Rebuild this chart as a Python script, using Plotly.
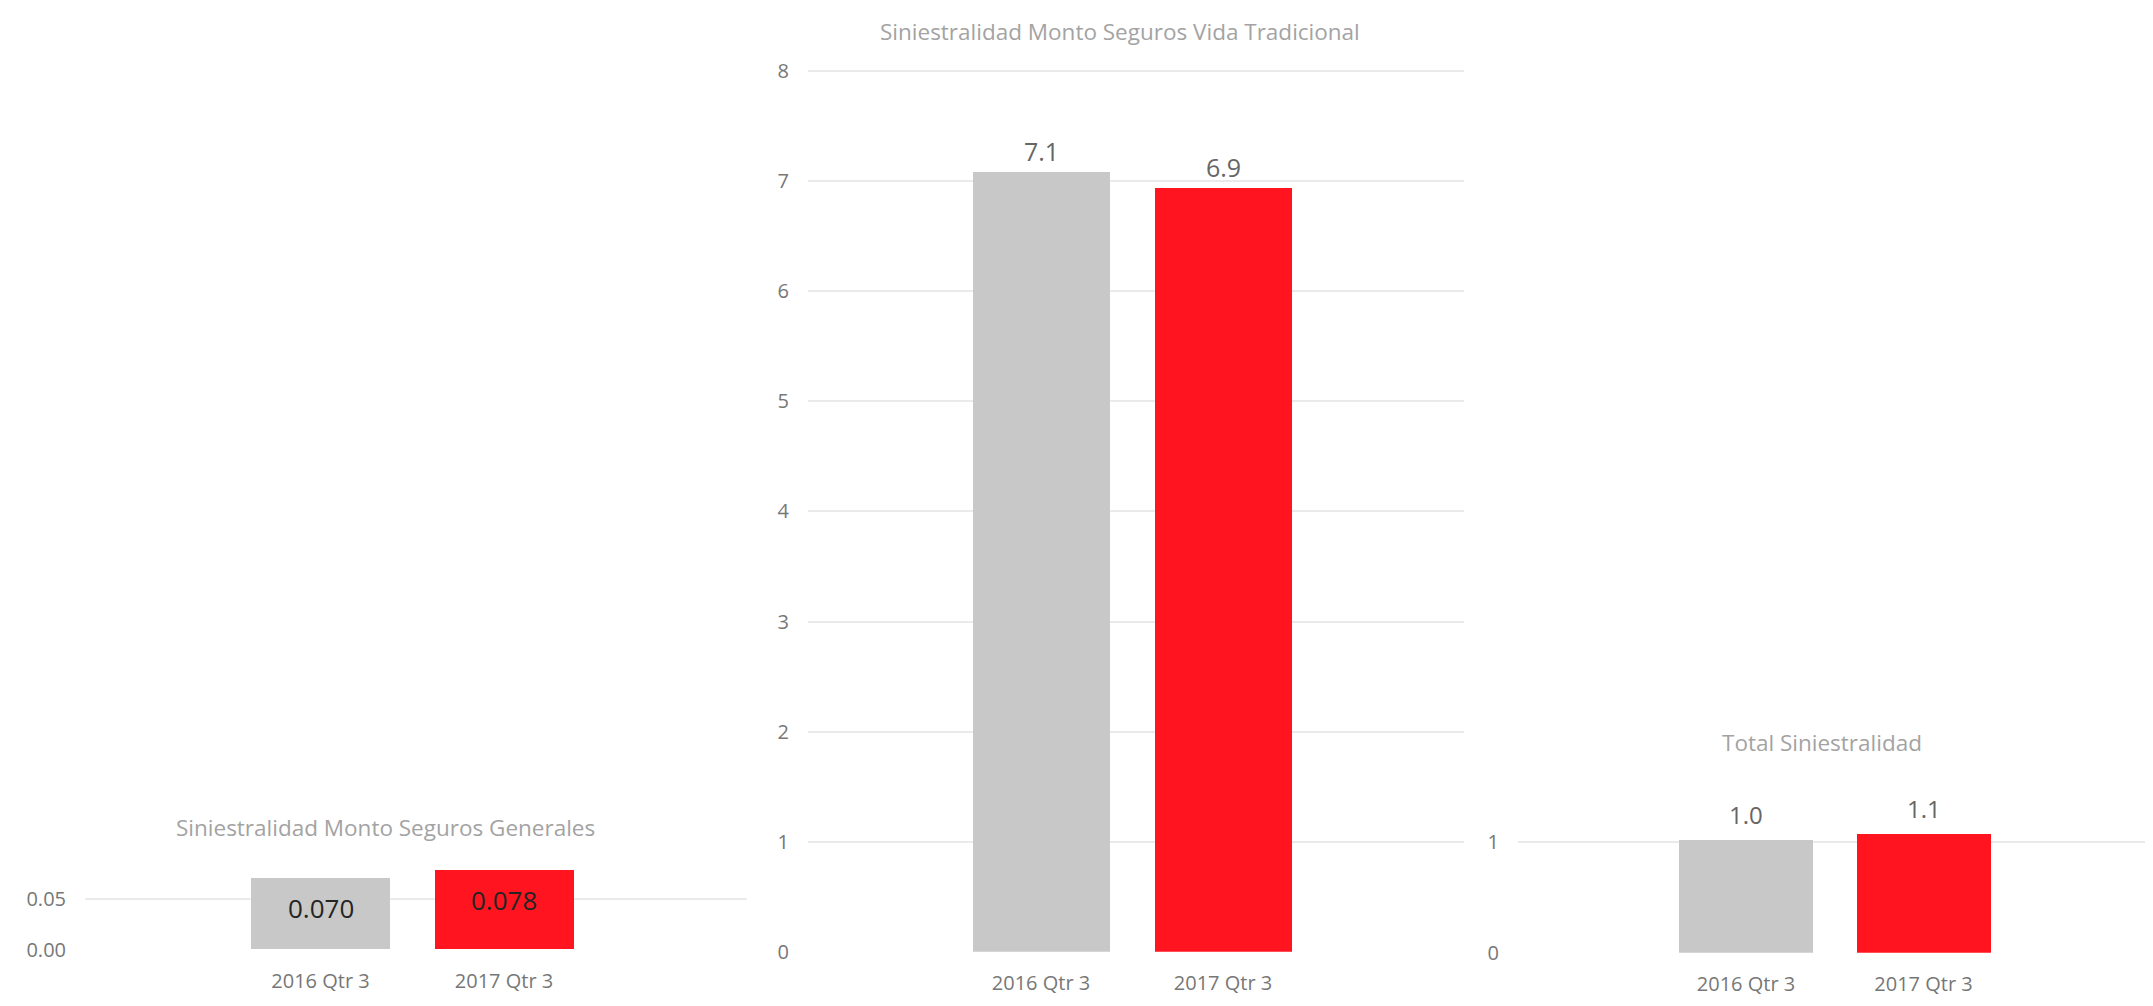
import plotly.graph_objects as go

W, H = 2153, 1006

categories = ["2016 Qtr 3", "2017 Qtr 3"]
bar_colors = ["#C8C8C8", "#FF1420"]

generales = [0.070, 0.078]
vida = [7.08, 6.94]
total = [1.02, 1.07]

titles = ["Siniestralidad Monto Seguros Generales",
          "Siniestralidad Monto Seguros Vida Tradicional",
          "Total Siniestralidad"]

gen_ticks = [0.00, 0.05]
vida_ticks = [0, 1, 2, 3, 4, 5, 6, 7, 8]
total_ticks = [0, 1]

FONT = "Open Sans, Segoe UI, sans-serif"
TITLE_C = "#A3A3A3"
TICK_C = "#777777"
GRID_C = "#EAEAEA"

def fx(px):
    return px / W

def fy(px):
    return 1 - px / H

# panel geometry (pixels)
panels = [
    dict(x0=77, x1=739, ybot=954, ytop=860, unit=1040, c0=312.5, c1=496, bw=139,
         title_xy=(377, 830), vals=generales, ticks=gen_ticks, tfmt=".2f", lfmt=".3f",
         lshift=-30, lcolor="#252423", lsize=26),
    dict(x0=800, x1=1456, ybot=956, ytop=50, unit=112, c0=1033, c1=1215, bw=137,
         title_xy=(1112, 20), vals=vida, ticks=vida_ticks, tfmt="d", lfmt=".1f",
         lshift=21, lcolor="#666666", lsize=25),
    dict(x0=1510, x1=2150, ybot=957, ytop=790, unit=113, c0=1738, c1=1915.5, bw=134,
         title_xy=(1814, 743), vals=total, ticks=total_ticks, tfmt="d", lfmt=".1f",
         lshift=25, lcolor="#666666", lsize=24),
]

fig = go.Figure()
annotations = []
layout_axes = {}

for i, p in enumerate(panels, start=1):
    xa = "x" if i == 1 else f"x{i}"
    ya = "y" if i == 1 else f"y{i}"
    sp = p["c1"] - p["c0"]
    xr = [-(p["c0"] - p["x0"]) / sp, 1 + (p["x1"] - p["c1"]) / sp]
    yr = [0, (p["ybot"] - p["ytop"]) / p["unit"]]
    fig.add_trace(go.Bar(
        x=categories, y=p["vals"], marker=dict(color=bar_colors, line=dict(width=0)),
        width=p["bw"] / sp, xaxis=xa, yaxis=ya, showlegend=False, hoverinfo="x+y"))
    xkey = "xaxis" if i == 1 else f"xaxis{i}"
    ykey = "yaxis" if i == 1 else f"yaxis{i}"
    layout_axes[xkey] = dict(
        domain=[fx(p["x0"]), fx(p["x1"])], anchor=ya, type="category",
        range=xr, showgrid=False, zeroline=False, showline=False, ticks="",
        tickfont=dict(family=FONT, size=20, color=TICK_C), ticklabelstandoff=17,
        fixedrange=True)
    layout_axes[ykey] = dict(
        domain=[fy(p["ybot"]), fy(p["ytop"])], anchor=xa, range=yr,
        tickvals=p["ticks"], tickformat=p["tfmt"], showgrid=True, gridcolor=GRID_C,
        gridwidth=1.5, zeroline=False, showline=False, ticks="",
        tickfont=dict(family=FONT, size=20, color=TICK_C), ticklabelstandoff=18,
        fixedrange=True)
    for cat, v in zip(categories, p["vals"]):
        annotations.append(dict(
            x=cat, y=v, xref=xa, yref=ya, text=format(v, p["lfmt"]), showarrow=False,
            yshift=p["lshift"], xanchor="center", yanchor="middle",
            font=dict(family=FONT, size=p["lsize"], color=p["lcolor"])))
    tx, ty = p["title_xy"]
    annotations.append(dict(
        x=fx(tx), y=fy(ty), xref="paper", yref="paper", text=titles[i - 1],
        showarrow=False, xanchor="center", yanchor="middle",
        font=dict(family=FONT, size=22.5, color=TITLE_C)))

fig.update_layout(
    width=W, height=H, margin=dict(l=0, r=0, t=0, b=0),
    paper_bgcolor="white", plot_bgcolor="white",
    annotations=annotations, bargap=0, **layout_axes)

fig.write_html("out.html", config={"displayModeBar": False})
